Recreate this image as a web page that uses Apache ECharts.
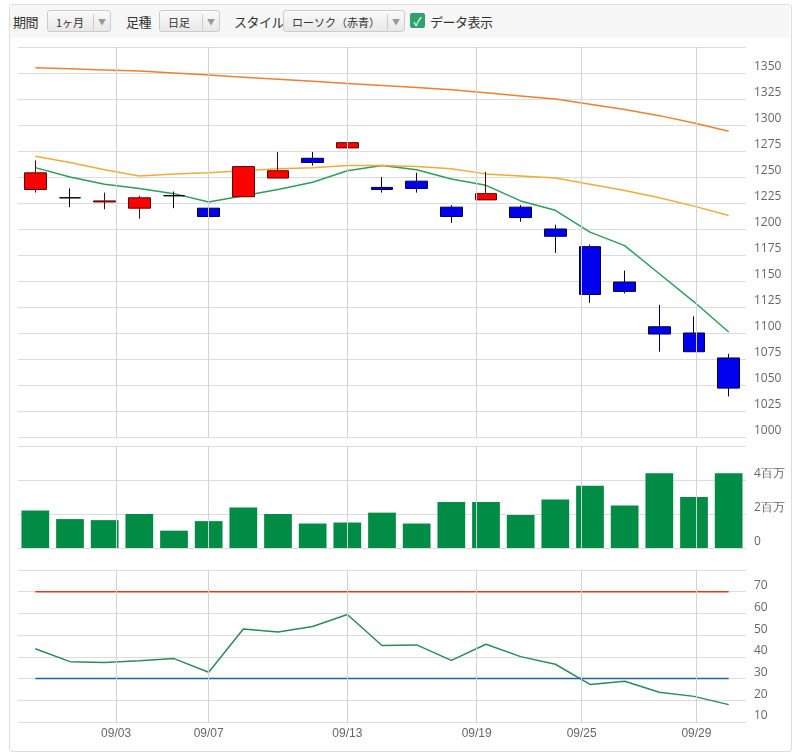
<!DOCTYPE html>
<html>
<head>
<meta charset="utf-8">
<script src="https://cdn.jsdelivr.net/npm/echarts@6/dist/echarts.min.js"></script>
<style>
  body{margin:0;background:#fff;font-family:"Noto Sans CJK JP",sans-serif;}
  #frame{position:absolute;left:9px;top:4px;width:781px;height:746px;border:1px solid #ddd;border-radius:3px;}
  #bar{position:absolute;left:10px;top:5px;width:780px;height:33px;background:#f7f7f7;font-size:13px;color:#333;}
  #bar span{position:absolute;top:7px;letter-spacing:-0.5px;}
  .sel{position:absolute;top:5px;height:22px;border:1px solid #ccc;border-radius:3px;background:linear-gradient(#fafafa,#e8e8e8);font-size:11px;line-height:22px;padding-left:8px;box-sizing:border-box;}
  .sel i{position:absolute;right:0;top:3px;width:16px;height:16px;border-left:1px solid #ccc;font-style:normal;font-size:8px;color:#999;text-align:center;line-height:16px;}
  #chk{position:absolute;left:400px;top:8px;width:15px;height:15px;background:#2fa36b;border-radius:2px;color:#fff;font-size:12px;line-height:15px;text-align:center;}
  #main{position:absolute;left:0;top:0;width:800px;height:754px;}
</style>
</head>
<body>
<div id="frame"></div>
<div id="main"></div>
<div id="bar">
  <span style="left:3px">期間</span>
  <div class="sel" style="left:37px;width:64px">1ヶ月<i>▼</i></div>
  <span style="left:116px">足種</span>
  <div class="sel" style="left:149px;width:61px">日足<i>▼</i></div>
  <span style="left:224px">スタイル</span>
  <div class="sel" style="left:273px;width:122px">ローソク（赤青）<i>▼</i></div>
  <div id="chk">✓</div>
  <span style="left:420px">データ表示</span>
</div>
<script>
// 日付（営業日）
var dates = ['08/31','09/01','09/02','09/03','09/06','09/07','09/08','09/09','09/10','09/13','09/14',
             '09/15','09/16','09/17','09/21','09/22','09/24','09/27','09/28','09/29','09/30'];
// [始値, 終値, 安値, 高値]
var ohlc = [
  [1238,1254,1235,1266],[1230,1230,1221,1239],[1226,1227,1219,1235],[1220,1230,1210,1232],
  [1232,1232,1220,1236],[1220,1212,1202,1222],[1231,1260,1231,1260],[1249,1256,1249,1274],
  [1268,1264,1261,1274],[1278,1283,1263,1288],[1240,1238,1235,1250],[1246,1239,1235,1254],
  [1221,1212,1206,1223],[1228,1234,1228,1255],[1221,1211,1207,1223],[1200,1193,1177,1204],
  [1183,1137,1129,1185],[1149,1140,1138,1160],[1106,1099,1082,1127],[1100,1082,1082,1116],
  [1076,1047,1039,1080]
];
var maShort = [1259,1250,1243,1239,1234,1226,1232,1238,1245,1256,1261,1257,1248,1242,1227,1218,1197,1184,1157,1130,1101];
var maMid   = [1270,1264,1257,1251,1253,1254,1256,1258,1259,1261,1261,1260,1258,1253,1251,1249,1243,1237,1230,1222,1213];
var maLong  = [1355,1354,1353,1352,1350,1348,1346,1344,1342,1340,1338,1336,1334,1331,1328,1325,1320,1315,1309,1302,1294];
var volume  = [2.2,1.7,1.64,2.0,1.02,1.58,2.38,2.0,1.44,1.5,2.08,1.44,2.7,2.7,1.94,2.86,3.66,2.5,4.4,3.0,4.4];
var rsi     = [43.7,37.8,37.4,38.2,39.2,32.9,52.8,51.5,54.0,59.5,45.2,45.5,38.4,45.8,40.1,36.6,27.3,28.8,23.7,21.8,18.0];
var rsiHigh = 70, rsiLow = 30;
// 縦グリッド位置（足インデックス基準）とラベル
var tickPos    = [2.33,5,9,12.73,15.76,19.07];
var tickLabels = ['09/03','09/07','09/13','09/19','09/25','09/29'];

var chart = echarts.init(document.getElementById('main'));
var gridColor = '#dcdcdc';
var grids = [
  {left:18,right:54,top:47,height:390},
  {left:18,right:54,top:446,height:102},
  {left:18,right:54,top:570,height:152}
];
function catAxis(i){
  return {type:'category',gridIndex:i,data:dates,boundaryGap:true,
    axisLine:{show:false},axisTick:{show:false},axisLabel:{show:false},splitLine:{show:false}};
}
function valXAxis(i){
  return {type:'value',gridIndex:i,min:-0.5,max:20.5,show:false};
}
function yAx(i,min,max,interval,fmt){
  return {type:'value',gridIndex:i,position:'right',min:min,max:max,interval:interval,
    axisLine:{show:false},axisTick:{show:false},
    splitLine:{lineStyle:{color:gridColor}},
    axisLabel:{color:'#666',fontSize:12,margin:8,verticalAlign:'bottom',fontFamily:'Open Sans',
      formatter:function(v){ return v===max?'':fmt(v); }}};
}
function vLines(i, withLabel){
  return {type:'line',xAxisIndex:3+i,yAxisIndex:i,data:[],silent:true,
    markLine:{silent:true,symbol:['none','none'],animation:false,
      lineStyle:{color:'#cfd3d8',type:'solid',width:1},
      label:{show:withLabel,position:'start',color:'#666',fontSize:12,distance:6,
        formatter:function(p){ return tickLabels[p.dataIndex]; }},
      data:tickPos.map(function(p){ return {xAxis:p}; })}};
}
var lineDateSeries = function(data,color,xi,yi){
  return {type:'line',xAxisIndex:xi,yAxisIndex:yi,data:data,symbol:'none',
    lineStyle:{color:color,width:1.5},z:3};
};
chart.setOption({
  animation:false,
  grid:grids,
  xAxis:[catAxis(0),catAxis(1),catAxis(2),valXAxis(0),valXAxis(1),valXAxis(2)],
  yAxis:[
    yAx(0,1000,1375,25,function(v){return v;}),
    yAx(1,0,6000000,2000000,function(v){return v===0?'0':(v/1000000)+'百万';}),
    yAx(2,10,80,10,function(v){return v;})
  ],
  series:[
    vLines(0,false),vLines(1,false),vLines(2,true),
    {type:'candlestick',xAxisIndex:0,yAxisIndex:0,data:ohlc,barWidth:'64%',z:4,
      itemStyle:{color:'#ff0000',color0:'#0000ee',borderColor:'#5a0000',borderColor0:'#000040',
        borderColorDoji:'#000',borderWidth:1}},
    lineDateSeries(maShort,'#2e9e5b',0,0),
    lineDateSeries(maMid,'#f0ab38',0,0),
    lineDateSeries(maLong,'#f08030',0,0),
    {type:'bar',xAxisIndex:1,yAxisIndex:1,data:volume.map(function(v){return v*1000000;}),
      barWidth:'80%',itemStyle:{color:'#008c45'}},
    lineDateSeries(rsi,'#2e8b57',2,2),
    lineDateSeries(dates.map(function(){return rsiHigh;}),'#e8391d',2,2),
    lineDateSeries(dates.map(function(){return rsiLow;}),'#2060b0',2,2)
  ]
});
</script>
</body>
</html>
